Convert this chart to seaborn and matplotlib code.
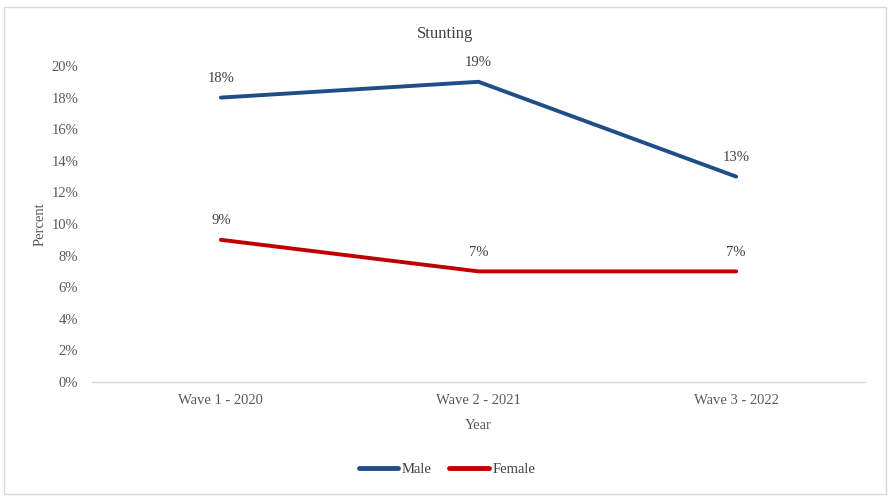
import matplotlib
matplotlib.use("Agg")
import matplotlib.pyplot as plt
import matplotlib.patches as mpatches
import seaborn as sns
import pandas as pd
from matplotlib.ticker import PercentFormatter

waves = ["Wave 1 - 2020", "Wave 2 - 2021", "Wave 3 - 2022"]
male = [18, 19, 13]
female = [9, 7, 7]
series_names = ["Male", "Female"]
colors = {"Male": "#1F4E87", "Female": "#C00000"}

df = pd.DataFrame({
    "Year": waves * 2,
    "Percent": male + female,
    "Sex": ["Male"] * 3 + ["Female"] * 3,
})

sns.set_theme(style="white")
plt.rcParams['font.family'] = ['Liberation Serif', 'DejaVu Serif']

fs = 10.5
fig = plt.figure(figsize=(8.9, 5.04), dpi=100)
ax = fig.add_axes([92/890, 122/504, (865-92)/890, (382-66)/504])

sns.lineplot(data=df, x="Year", y="Percent", hue="Sex", palette=colors,
             linewidth=2.8, ax=ax, sort=False, legend=False,
             solid_capstyle="round")

for name, vals in zip(series_names, [male, female]):
    for i, v in enumerate(vals):
        ax.annotate(f"{v}%", (i, v), xytext=(0, 9), textcoords="offset points",
                    ha="center", va="bottom", fontsize=fs, color="#404040")

ax.set_xlim(-0.5, 2.5)
ax.set_ylim(0, 20)
ax.set_yticks(range(0, 21, 2))
ax.yaxis.set_major_formatter(PercentFormatter(decimals=0))
ax.tick_params(axis="both", labelsize=fs, labelcolor="#595959", length=0)
ax.tick_params(axis="x", pad=9)
ax.tick_params(axis="y", pad=10)
for s in ["top", "right", "left"]:
    ax.spines[s].set_visible(False)
ax.spines["bottom"].set_color("#D9D9D9")
ax.spines["bottom"].set_linewidth(1)
ax.grid(False)

ax.set_xlabel("Year", fontsize=fs, color="#595959", labelpad=8)
ax.set_ylabel("Percent", fontsize=fs, color="#595959", labelpad=3)
fig.text(445/890, 1 - 34/504, "Stunting", ha="center", va="center",
         fontsize=12, color="#404040")

handles = [plt.Line2D([0], [0], color=colors[n], lw=3.5, solid_capstyle="round") for n in series_names]
fig.legend(handles, series_names, loc="center", bbox_to_anchor=(447/890, 1 - 469/504),
           ncol=2, frameon=False, fontsize=fs, handlelength=2.7, handletextpad=0.25,
           columnspacing=1.2, labelcolor="#404040")

fig.patches.append(mpatches.Rectangle((4/890, 1 - 494/504), 882/890, 487/504,
                                      transform=fig.transFigure, fill=False,
                                      edgecolor="#D9D9D9", linewidth=1))

fig.savefig("out.png", dpi=100)
